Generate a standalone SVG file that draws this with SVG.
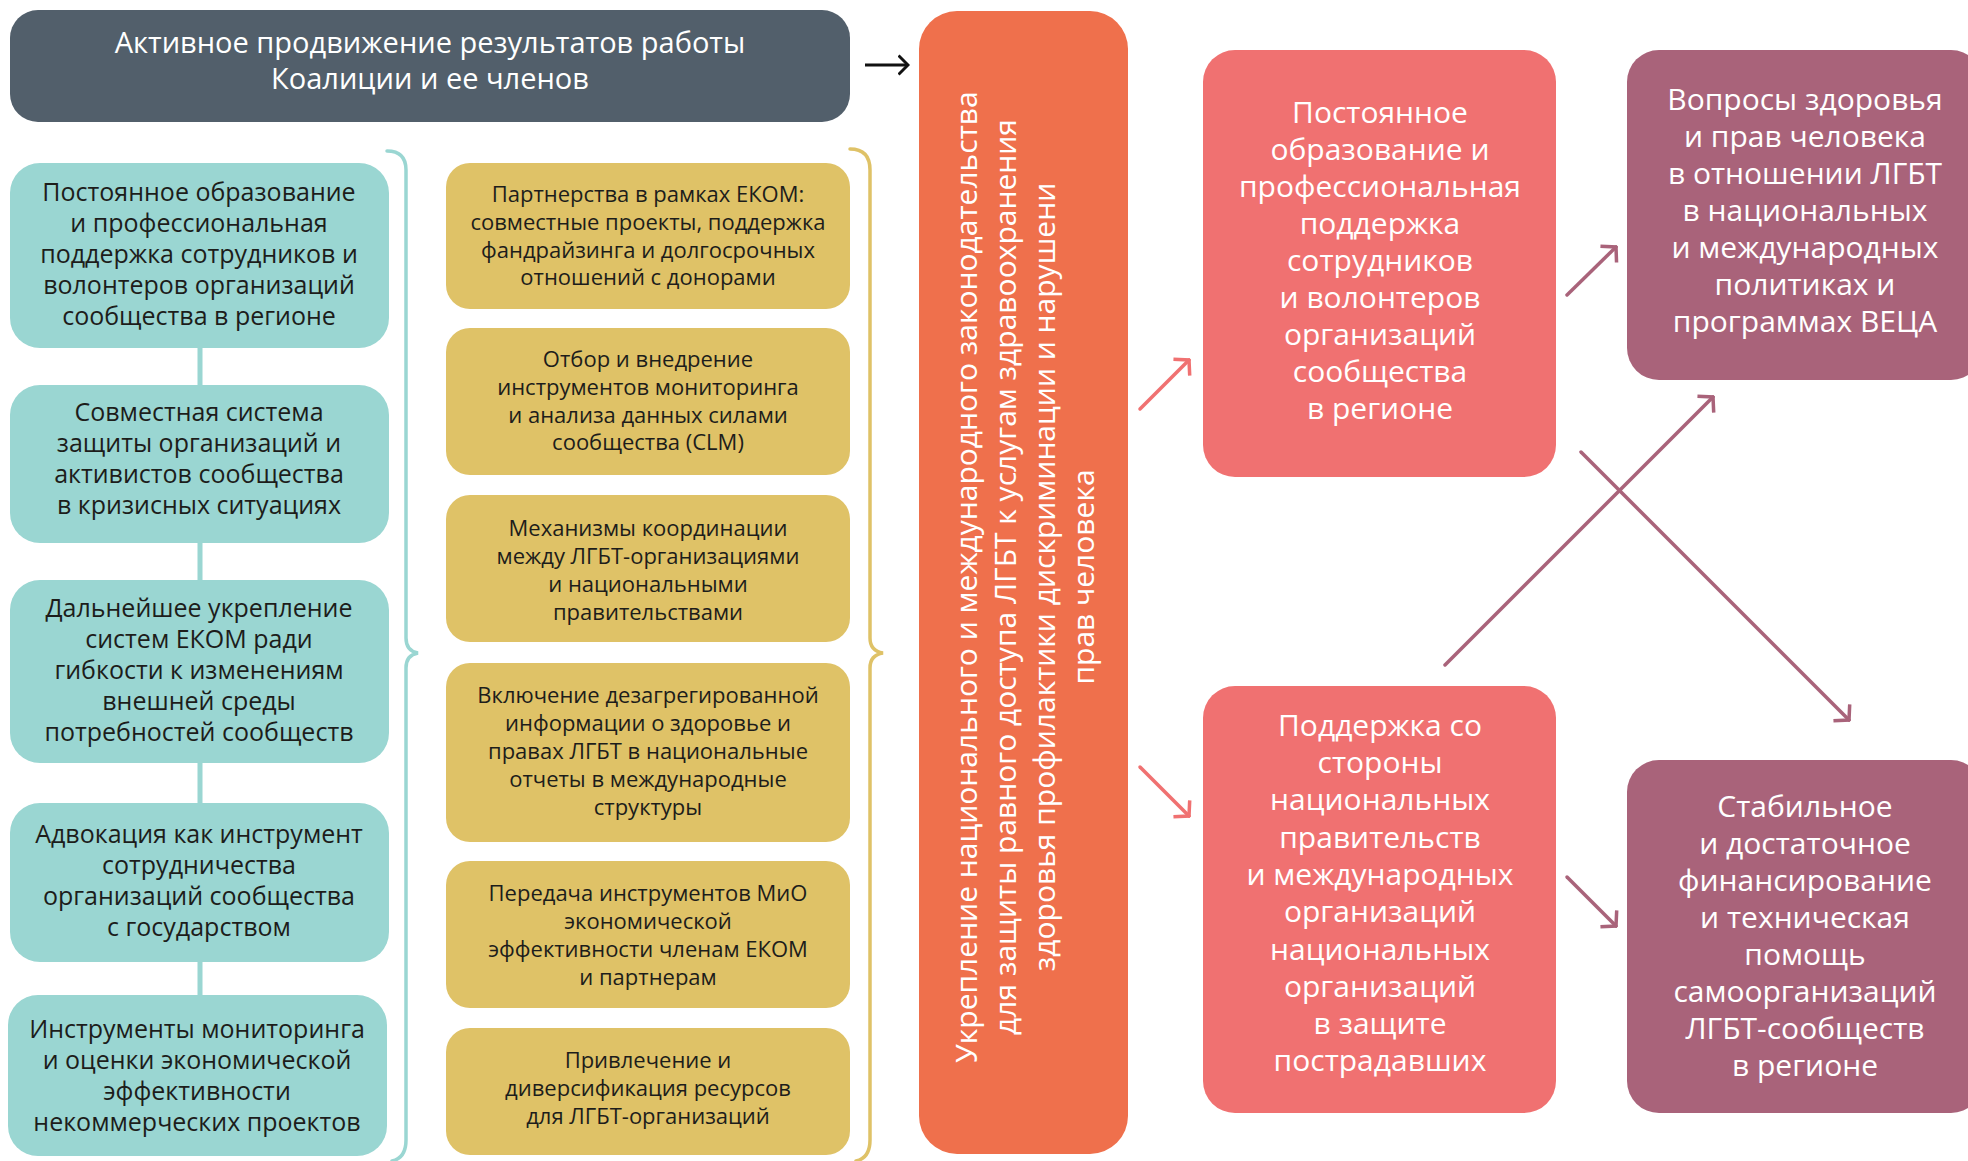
<svg xmlns="http://www.w3.org/2000/svg" width="1968" height="1161" viewBox="0 0 1968 1161">
<defs>
<style>
text{font-family:"Open Sans","Noto Sans","Liberation Sans",sans-serif;text-anchor:middle}
.w{fill:#ffffff}
.d{fill:#1d1d1b}
.top{font-size:29px}
.ori{font-size:30px}
.lt{font-size:25px}
.yt{font-size:22px}
.rt{font-size:30px}
.teal{fill:#9ad6d2}
.yel{fill:#dfc267}
.sal{fill:#f07171}
.pur{fill:#a9637a}
.ln{fill:none;stroke-width:3.5;stroke-linecap:round}
</style>
<marker id="hb" markerUnits="userSpaceOnUse" viewBox="0 0 12 22" markerWidth="12" markerHeight="22" refX="10.5" refY="11" orient="auto"><path d="M1,1.5 L10.5,11 L1,20.5" fill="none" stroke="#111111" stroke-width="3"/></marker>
<marker id="hs" markerUnits="userSpaceOnUse" viewBox="0 0 14 26" markerWidth="14" markerHeight="26" refX="12" refY="13" orient="auto"><path d="M1.5,1.5 L12,13 L1.5,24.5" fill="none" stroke="#f07171" stroke-width="3.5"/></marker>
<marker id="hp" markerUnits="userSpaceOnUse" viewBox="0 0 14 26" markerWidth="14" markerHeight="26" refX="12" refY="13" orient="auto"><path d="M1.5,1.5 L12,13 L1.5,24.5" fill="none" stroke="#a9637a" stroke-width="3.5"/></marker>
</defs>
<rect width="1968" height="1161" fill="#ffffff"/>

<g id="connectors">
<line x1="200" y1="340" x2="200" y2="1000" stroke="#9ad6d2" stroke-width="5"/>
<path d="M387,151 Q406,151 406,170 L406,638 Q406,651 418,653 Q406,655 406,668 L406,1140 Q406,1158 392,1161" class="ln" stroke="#9ad6d2" stroke-width="4"/>
<path d="M850,149 Q870,149 870,170 L870,638 Q870,651 883,653 Q870,655 870,668 L870,1140 Q870,1158 856,1161" class="ln" stroke="#dfc267" stroke-width="4"/>
<line x1="865" y1="65" x2="908" y2="65" stroke="#111111" stroke-width="3" marker-end="url(#hb)"/>
<line x1="1140" y1="409" x2="1189" y2="360" class="ln" stroke="#f07171" marker-end="url(#hs)"/>
<line x1="1140" y1="767" x2="1189" y2="816" class="ln" stroke="#f07171" marker-end="url(#hs)"/>
<line x1="1567" y1="295" x2="1616" y2="247" class="ln" stroke="#a9637a" marker-end="url(#hp)"/>
<line x1="1567" y1="877" x2="1616" y2="926" class="ln" stroke="#a9637a" marker-end="url(#hp)"/>
<line x1="1445" y1="665" x2="1713" y2="397" class="ln" stroke="#a9637a" marker-end="url(#hp)"/>
<line x1="1581" y1="452" x2="1849" y2="720" class="ln" stroke="#a9637a" marker-end="url(#hp)"/>
</g>

<g id="top">
<rect x="10" y="10" width="840" height="112" rx="28" fill="#525f6b"/>
<text class="w top"><tspan x="430" y="53">Активное продвижение результатов работы</tspan><tspan x="430" y="89">Коалиции и ее членов</tspan></text>
</g>

<g id="l1"><rect x="10" y="163" width="379" height="185" rx="30" class="teal"/>
<text class="d lt"><tspan x="199" y="201">Постоянное образование</tspan><tspan x="199" y="232">и профессиональная</tspan><tspan x="199" y="263">поддержка сотрудников и</tspan><tspan x="199" y="294">волонтеров организаций</tspan><tspan x="199" y="325">сообщества в регионе</tspan></text></g>
<g id="l2"><rect x="10" y="385" width="379" height="158" rx="30" class="teal"/>
<text class="d lt"><tspan x="199" y="421">Совместная система</tspan><tspan x="199" y="452">защиты организаций и</tspan><tspan x="199" y="483">активистов сообщества</tspan><tspan x="199" y="514">в кризисных ситуациях</tspan></text></g>
<g id="l3"><rect x="10" y="580" width="379" height="183" rx="30" class="teal"/>
<text class="d lt"><tspan x="199" y="617">Дальнейшее укрепление</tspan><tspan x="199" y="648">систем ЕКОМ ради</tspan><tspan x="199" y="679">гибкости к изменениям</tspan><tspan x="199" y="710">внешней среды</tspan><tspan x="199" y="741">потребностей сообществ</tspan></text></g>
<g id="l4"><rect x="10" y="803" width="379" height="159" rx="30" class="teal"/>
<text class="d lt"><tspan x="199" y="843">Адвокация как инструмент</tspan><tspan x="199" y="874">сотрудничества</tspan><tspan x="199" y="905">организаций сообщества</tspan><tspan x="199" y="936">с государством</tspan></text></g>
<g id="l5"><rect x="8" y="995" width="379" height="161" rx="30" class="teal"/>
<text class="d lt"><tspan x="197" y="1038">Инструменты мониторинга</tspan><tspan x="197" y="1069">и оценки экономической</tspan><tspan x="197" y="1100">эффективности</tspan><tspan x="197" y="1131">некоммерческих проектов</tspan></text></g>

<g id="y1"><rect x="446" y="163" width="404" height="146" rx="24" class="yel"/>
<text class="d yt"><tspan x="648" y="202">Партнерства в рамках ЕКОМ:</tspan><tspan x="648" y="230">совместные проекты, поддержка</tspan><tspan x="648" y="258">фандрайзинга и долгосрочных</tspan><tspan x="648" y="285">отношений с донорами</tspan></text></g>
<g id="y2"><rect x="446" y="328" width="404" height="147" rx="24" class="yel"/>
<text class="d yt"><tspan x="648" y="367">Отбор и внедрение</tspan><tspan x="648" y="395">инструментов мониторинга</tspan><tspan x="648" y="423">и анализа данных силами</tspan><tspan x="648" y="450">сообщества (CLM)</tspan></text></g>
<g id="y3"><rect x="446" y="495" width="404" height="147" rx="24" class="yel"/>
<text class="d yt"><tspan x="648" y="536">Механизмы координации</tspan><tspan x="648" y="564">между ЛГБТ-организациями</tspan><tspan x="648" y="592">и национальными</tspan><tspan x="648" y="620">правительствами</tspan></text></g>
<g id="y4"><rect x="446" y="663" width="404" height="179" rx="24" class="yel"/>
<text class="d yt"><tspan x="648" y="703">Включение дезагрегированной</tspan><tspan x="648" y="731">информации о здоровье и</tspan><tspan x="648" y="759">правах ЛГБТ в национальные</tspan><tspan x="648" y="787">отчеты в международные</tspan><tspan x="648" y="815">структуры</tspan></text></g>
<g id="y5"><rect x="446" y="861" width="404" height="147" rx="24" class="yel"/>
<text class="d yt"><tspan x="648" y="901">Передача инструментов МиО</tspan><tspan x="648" y="929">экономической</tspan><tspan x="648" y="957">эффективности членам ЕКОМ</tspan><tspan x="648" y="985">и партнерам</tspan></text></g>
<g id="y6"><rect x="446" y="1028" width="404" height="127" rx="24" class="yel"/>
<text class="d yt"><tspan x="648" y="1068">Привлечение и</tspan><tspan x="648" y="1096">диверсификация ресурсов</tspan><tspan x="648" y="1124">для ЛГБТ-организаций</tspan></text></g>

<g id="center">
<rect x="919" y="11" width="209" height="1143" rx="38" fill="#ef704c"/>
<text class="w ori" transform="translate(1023,577) rotate(-90)"><tspan x="0" y="-46">Укрепление национального и международного законодательства</tspan><tspan x="0" y="-7">для защиты равного доступа ЛГБТ к услугам здравоохранения</tspan><tspan x="0" y="32">здоровья профилактики дискриминации и нарушени</tspan><tspan x="0" y="71">прав человека</tspan></text>
</g>

<g id="s1"><rect x="1203" y="50" width="353" height="427" rx="32" class="sal"/>
<text class="w rt"><tspan x="1380" y="123">Постоянное</tspan><tspan x="1380" y="160">образование и</tspan><tspan x="1380" y="197">профессиональная</tspan><tspan x="1380" y="234">поддержка</tspan><tspan x="1380" y="271">сотрудников</tspan><tspan x="1380" y="308">и волонтеров</tspan><tspan x="1380" y="345">организаций</tspan><tspan x="1380" y="382">сообщества</tspan><tspan x="1380" y="419">в регионе</tspan></text></g>
<g id="s2"><rect x="1203" y="686" width="353" height="427" rx="32" class="sal"/>
<text class="w rt"><tspan x="1380" y="736">Поддержка со</tspan><tspan x="1380" y="773">стороны</tspan><tspan x="1380" y="810">национальных</tspan><tspan x="1380" y="848">правительств</tspan><tspan x="1380" y="885">и международных</tspan><tspan x="1380" y="922">организаций</tspan><tspan x="1380" y="960">национальных</tspan><tspan x="1380" y="997">организаций</tspan><tspan x="1380" y="1034">в защите</tspan><tspan x="1380" y="1071">пострадавших</tspan></text></g>
<g id="p1"><rect x="1627" y="50" width="356" height="330" rx="32" class="pur"/>
<text class="w rt"><tspan x="1805" y="110">Вопросы здоровья</tspan><tspan x="1805" y="147">и прав человека</tspan><tspan x="1805" y="184">в отношении ЛГБТ</tspan><tspan x="1805" y="221">в национальных</tspan><tspan x="1805" y="258">и международных</tspan><tspan x="1805" y="295">политиках и</tspan><tspan x="1805" y="332">программах ВЕЦА</tspan></text></g>
<g id="p2"><rect x="1627" y="760" width="356" height="353" rx="32" class="pur"/>
<text class="w rt"><tspan x="1805" y="817">Стабильное</tspan><tspan x="1805" y="854">и достаточное</tspan><tspan x="1805" y="891">финансирование</tspan><tspan x="1805" y="928">и техническая</tspan><tspan x="1805" y="965">помощь</tspan><tspan x="1805" y="1002">самоорганизаций</tspan><tspan x="1805" y="1039">ЛГБТ-сообществ</tspan><tspan x="1805" y="1076">в регионе</tspan></text></g>
</svg>
